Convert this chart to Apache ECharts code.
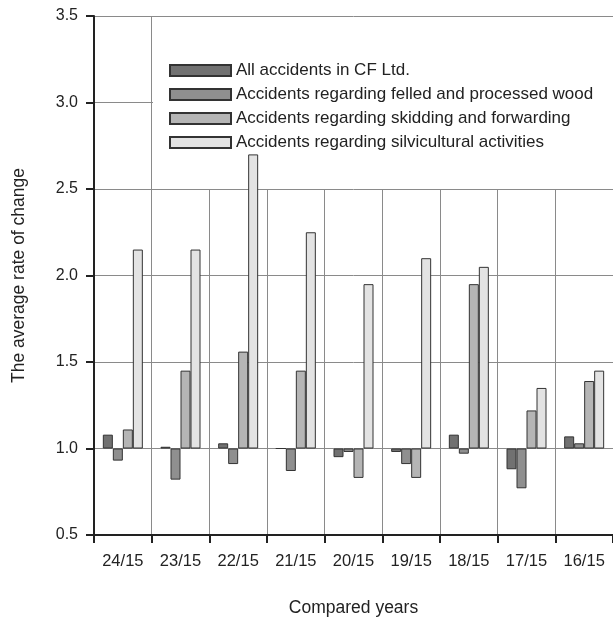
<!DOCTYPE html>
<html>
<head>
<meta charset="utf-8">
<script src="https://cdn.jsdelivr.net/npm/echarts@6/dist/echarts.min.js"></script>
<style>
  html, body { margin: 0; padding: 0; background: #fff; }
  #main { width: 613px; height: 622px; }
</style>
</head>
<body>
<div id="main"></div>
<script>
// compared years
const categories = ['24/15', '23/15', '22/15', '21/15', '20/15', '19/15', '18/15', '17/15', '16/15'];
const yTicks = [0.5, 1.0, 1.5, 2.0, 2.5, 3.0, 3.5];
// average rate of change
const allAccidents = [1.08, 1.01, 1.03, 1.00, 0.95, 0.98, 1.08, 0.88, 1.07];
const felledWood = [0.93, 0.82, 0.91, 0.87, 0.98, 0.91, 0.97, 0.77, 1.03];
const skidding = [1.11, 1.45, 1.56, 1.45, 0.83, 0.83, 1.95, 1.22, 1.39];
const silvicultural = [2.15, 2.15, 2.70, 2.25, 1.95, 2.10, 2.05, 1.35, 1.45];

const names = [
  'All accidents in CF Ltd.',
  'Accidents regarding felled and processed wood',
  'Accidents regarding skidding and forwarding',
  'Accidents regarding silvicultural activities'
];
const colors = ['#717171', '#8f8f8f', '#b5b5b5', '#e3e3e3'];
const BASE = 1; // bars grow from 1.0

const font = 'Liberation Sans, Arial, sans-serif';

const mkSeries = (name, data, i) => ({
  name: name,
  type: 'bar',
  barWidth: 10,
  barGap: 0,
  itemStyle: { color: colors[i], borderColor: '#333', borderWidth: 1 },
  // values shifted so the bar baseline sits at 1.0
  data: data.map(v => +(v - BASE).toFixed(3))
});

const myChart = echarts.init(document.getElementById('main'));
myChart.setOption({
  backgroundColor: '#fff',
  animation: false,
  textStyle: { fontFamily: font },
  grid: { left: 94, top: 16, width: 522, height: 522 },
  // white panel behind the legend: hides grid lines, not the bars
  graphic: [{
    type: 'rect',
    z: 1,
    shape: { x: 153, y: 17, width: 470, height: 172 },
    style: { fill: '#fff' }
  }],
  legend: {
    orient: 'vertical',
    left: 169,
    top: 62,
    padding: 0,
    itemWidth: 61,
    itemHeight: 11,
    itemGap: 7,
    icon: 'rect',
    data: names,
    textStyle: { fontSize: 17, color: '#222', lineHeight: 17, fontFamily: font }
  },
  xAxis: {
    type: 'category',
    data: categories,
    name: 'Compared years',
    nameLocation: 'middle',
    nameGap: 64,
    nameTextStyle: { fontSize: 17.5, color: '#222' },
    axisLine: { onZero: false, lineStyle: { color: '#222', width: 2 } },
    axisTick: { show: true, length: 8, lineStyle: { color: '#222', width: 2 } },
    axisLabel: { fontSize: 16.5, color: '#222', margin: 18, interval: 0 },
    splitLine: { show: true, interval: 0, lineStyle: { color: '#8a8a8a', width: 1 } }
  },
  yAxis: {
    type: 'value',
    min: yTicks[0] - BASE,
    max: yTicks[yTicks.length - 1] - BASE,
    interval: 0.5,
    name: 'The average rate of change',
    nameLocation: 'middle',
    nameGap: 66,
    nameTextStyle: { fontSize: 17.5, color: '#222' },
    axisLine: { show: true, lineStyle: { color: '#222', width: 2 } },
    axisTick: { show: true, length: 8, lineStyle: { color: '#222', width: 2 } },
    axisLabel: {
      fontSize: 16, color: '#222', margin: 16,
      formatter: v => (v + BASE).toFixed(1)
    },
    splitLine: { show: true, lineStyle: { color: '#8a8a8a', width: 1 } }
  },
  series: [
    mkSeries(names[0], allAccidents, 0),
    mkSeries(names[1], felledWood, 1),
    mkSeries(names[2], skidding, 2),
    mkSeries(names[3], silvicultural, 3)
  ]
});
</script>
</body>
</html>
